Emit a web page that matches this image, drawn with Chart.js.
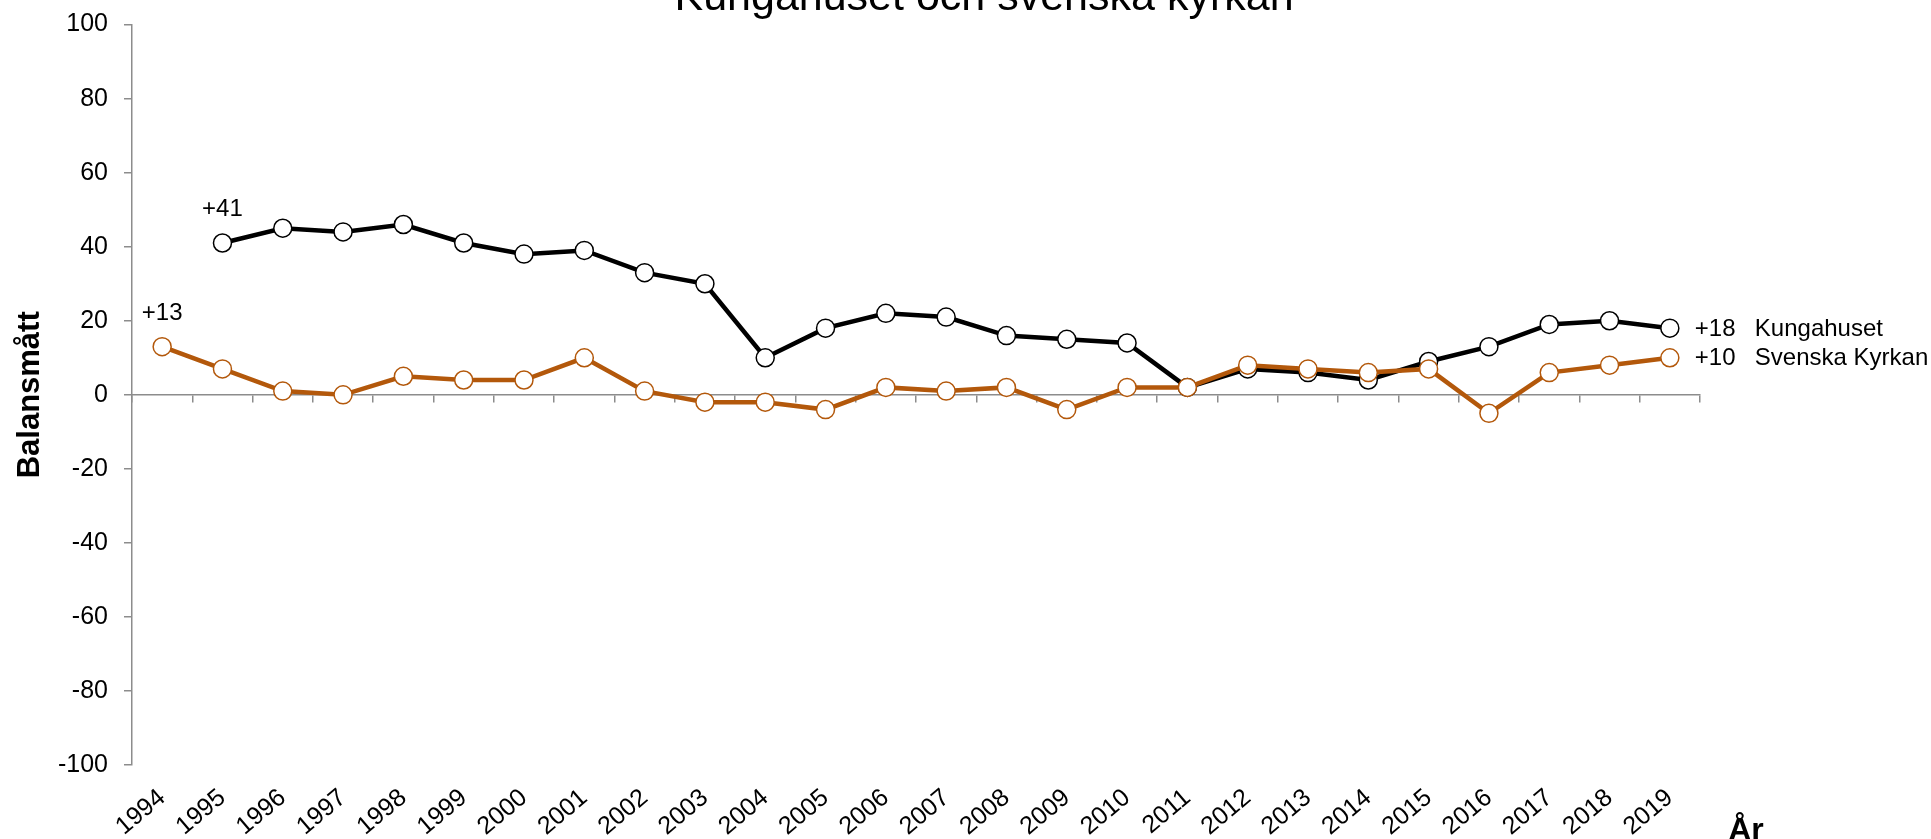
<!DOCTYPE html>
<html>
<head>
<meta charset="utf-8">
<script src="https://cdn.jsdelivr.net/npm/chart.js@4.4.1/dist/chart.umd.min.js"></script>
<style>
html,body{margin:0;padding:0;background:#fff;overflow:hidden}
#wrap{position:relative;width:1931px;height:839px;overflow:hidden;background:#fff}
#c{position:absolute;left:0;top:-30px}
</style>
</head>
<body>
<div id="wrap"><canvas id="c" width="1931" height="869" style="width:1931px;height:869px"></canvas></div>
<script>
// ---- data ----
const years = ['1994','1995','1996','1997','1998','1999','2000','2001','2002','2003','2004','2005','2006','2007','2008','2009','2010','2011','2012','2013','2014','2015','2016','2017','2018','2019'];
const kungahuset = [null,41,45,44,46,41,38,39,33,30,10,18,22,21,16,15,14,2,7,6,4,9,13,19,20,18];
const svenskaKyrkan = [13,7,1,0,5,4,4,10,1,-2,-2,-4,2,1,2,-4,2,2,8,7,6,7,-5,6,8,10];
const yTicks = [-100,-80,-60,-40,-20,0,20,40,60,80,100];
const titleText = 'Kungahuset och svenska kyrkan';
const yTitle = 'Balansmått';
const xTitle = 'År';

const FONT = '"Liberation Sans", Arial, sans-serif';
const AXIS = '#8c8c8c';
const ORANGE = '#b3580b';
Chart.defaults.font.family = FONT;
Chart.defaults.color = '#000';

const fmt = v => (v > 0 ? '+' : '') + v;

const labelPlugin = {
  id: 'seriesLabels',
  afterDatasetsDraw(chart) {
    const {ctx, chartArea} = chart;
    const x = chart.scales.x, y = chart.scales.y;
    ctx.save();
    ctx.fillStyle = '#000';
    ctx.font = '24px ' + FONT;
    chart.data.datasets.forEach(ds => {
      const d = ds.data;
      const first = d.findIndex(v => v !== null);
      ctx.textAlign = 'center';
      ctx.textBaseline = 'alphabetic';
      ctx.fillText(fmt(d[first]), x.getPixelForValue(first), y.getPixelForValue(d[first]) - 27);
      const last = d.length - 1;
      const px = x.getPixelForValue(last), py = y.getPixelForValue(d[last]);
      ctx.textAlign = 'left';
      ctx.textBaseline = 'middle';
      ctx.fillText(fmt(d[last]), px + 25, py + 1);
      ctx.fillText(ds.label, px + 85, py + 1);
    });
    ctx.font = 'bold 32px ' + FONT;
    ctx.textAlign = 'center';
    ctx.textBaseline = 'alphabetic';
    ctx.fillText(xTitle, chartArea.right + 46, chart.height + 1);
    ctx.restore();
  }
};

new Chart(document.getElementById('c'), {
  type: 'line',
  data: {
    labels: years,
    datasets: [
      {
        label: 'Kungahuset',
        data: kungahuset,
        order: 2,
        borderColor: '#000',
        borderWidth: 4.5,
        pointRadius: 9,
        pointBorderWidth: 1.5,
        pointBorderColor: '#000',
        pointBackgroundColor: '#fff',
        tension: 0,
        spanGaps: false
      },
      {
        label: 'Svenska Kyrkan',
        data: svenskaKyrkan,
        order: 1,
        borderColor: ORANGE,
        borderWidth: 4.5,
        pointRadius: 9,
        pointBorderWidth: 1.5,
        pointBorderColor: ORANGE,
        pointBackgroundColor: '#fff',
        tension: 0
      }
    ]
  },
  options: {
    responsive: false,
    animation: false,
    devicePixelRatio: 1,
    layout: { padding: { left: 37, right: 0, top: 0, bottom: 0 } },
    plugins: {
      legend: { display: false },
      tooltip: { enabled: false },
      title: {
        display: true,
        text: titleText,
        font: { size: 43, weight: 'normal', family: FONT },
        color: '#000',
        padding: { top: 2, bottom: 1 }
      }
    },
    scales: {
      x: {
        type: 'category',
        position: 'bottom',
        offset: true,
        grid: { display: false, drawTicks: false },
        border: { display: false },
        ticks: {
          autoSkip: false,
          maxRotation: 40,
          minRotation: 40,
          padding: 18,
          font: { size: 25 },
          color: '#000'
        },
        afterFit: s => { s.height = 74; }
      },
      x0: {
        type: 'category',
        axis: 'x',
        position: { y: 0 },
        offset: true,
        grid: { drawOnChartArea: false, drawTicks: true, tickLength: 7, color: AXIS, lineWidth: 1.5, offset: true },
        border: { display: true, color: AXIS, width: 1.5 },
        ticks: { display: false }
      },
      y: {
        type: 'linear',
        min: -100,
        max: 100,
        afterBuildTicks: s => { s.ticks = yTicks.map(v => ({ value: v })); },
        grid: { drawOnChartArea: false, drawTicks: true, tickLength: 8, color: AXIS, lineWidth: 1.5 },
        border: { display: true, color: AXIS, width: 1.5 },
        ticks: { font: { size: 25 }, color: '#000', padding: 16 },
        title: {
          display: true,
          text: yTitle,
          font: { size: 31, weight: 'bold' },
          color: '#000',
          padding: { top: -25.6, bottom: 0 }
        },
        afterFit: s => { s.width = 95; }
      },
      yRight: {
        type: 'linear',
        position: 'right',
        display: true,
        grid: { display: false, drawTicks: false },
        border: { display: false },
        ticks: { display: false },
        afterFit: s => { s.width = 231; }
      }
    }
  },
  plugins: [labelPlugin]
});
</script>
</body>
</html>
